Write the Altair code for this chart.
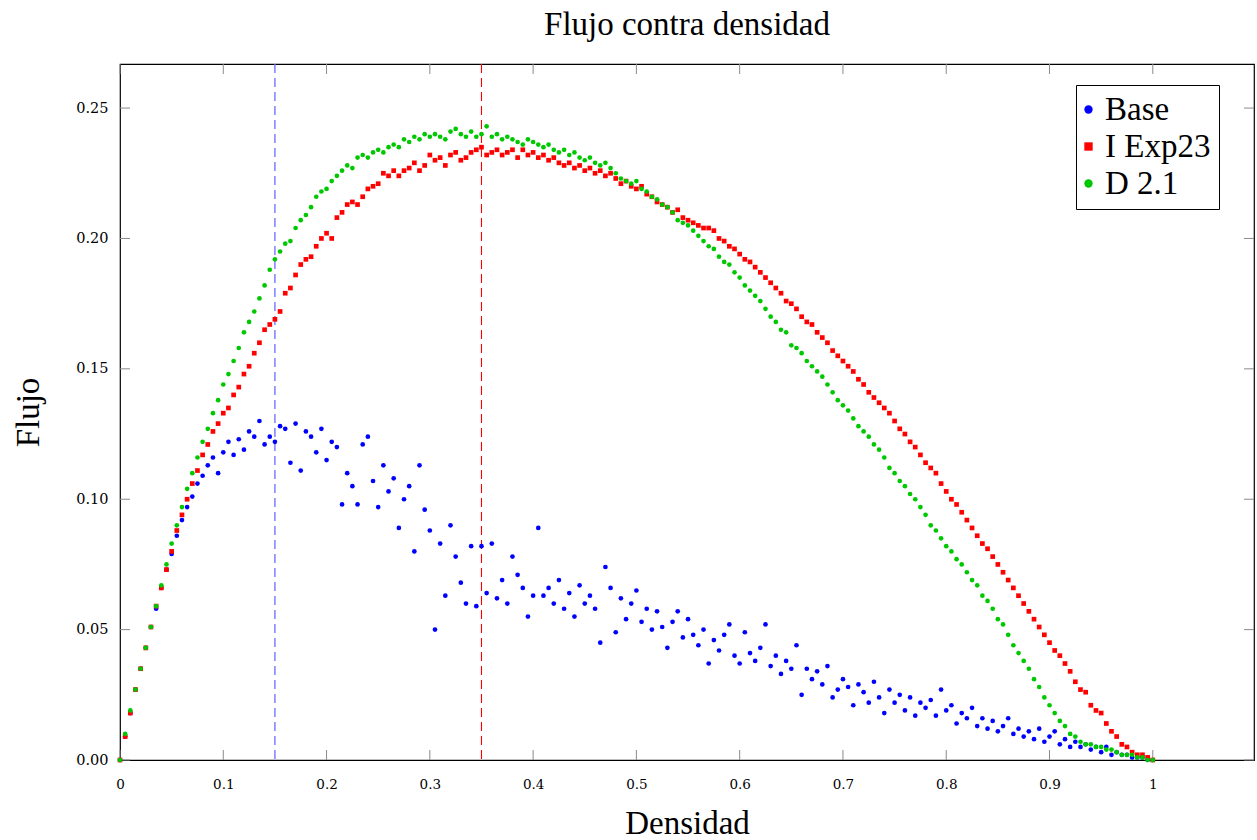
import altair as alt
import pandas as pd

# Density grid (x values of every sample, step 0.005)
DENSIDAD = [round(i * 0.005, 3) for i in range(201)]

BASE = [
    0.000, 0.009, 0.018, 0.027, 0.035, 0.043, 0.051, 0.058, 0.066, 0.073,
    0.079, 0.086, 0.092, 0.097, 0.101, 0.106, 0.109, 0.113, 0.116, 0.110,
    0.118, 0.122, 0.117, 0.123, 0.119, 0.126, 0.124, 0.130, 0.121, 0.124,
    0.122, 0.128, 0.127, 0.114, 0.129, 0.111, 0.126, 0.124, 0.118, 0.127,
    0.115, 0.122, 0.120, 0.098, 0.110, 0.105, 0.098, 0.121, 0.124, 0.107,
    0.097, 0.113, 0.103, 0.108, 0.089, 0.100, 0.105, 0.080, 0.113, 0.096,
    0.088, 0.050, 0.083, 0.063, 0.090, 0.078, 0.068, 0.060, 0.082, 0.059,
    0.082, 0.064, 0.083, 0.062, 0.069, 0.060, 0.078, 0.071, 0.066, 0.055,
    0.063, 0.089, 0.063, 0.066, 0.060, 0.069, 0.058, 0.064, 0.055, 0.067,
    0.060, 0.063, 0.058, 0.045, 0.074, 0.066, 0.049, 0.062, 0.054, 0.060,
    0.065, 0.053, 0.058, 0.050, 0.057, 0.051, 0.043, 0.053, 0.057, 0.047,
    0.054, 0.048, 0.044, 0.050, 0.037, 0.046, 0.042, 0.048, 0.052, 0.040,
    0.037, 0.049, 0.041, 0.038, 0.043, 0.052, 0.036, 0.040, 0.033, 0.038,
    0.035, 0.044, 0.025, 0.035, 0.031, 0.034, 0.029, 0.036, 0.024, 0.027,
    0.031, 0.028, 0.021, 0.029, 0.026, 0.022, 0.030, 0.024, 0.018, 0.027,
    0.022, 0.025, 0.019, 0.024, 0.017, 0.022, 0.020, 0.023, 0.017, 0.027,
    0.019, 0.021, 0.014, 0.018, 0.016, 0.020, 0.013, 0.016, 0.012, 0.015,
    0.011, 0.013, 0.016, 0.010, 0.012, 0.009, 0.011, 0.008, 0.012, 0.007,
    0.009, 0.011, 0.006, 0.008, 0.005, 0.007, 0.005, 0.006, 0.004, 0.005,
    0.003, 0.005, 0.002, 0.003, 0.002, 0.002, 0.001, 0.001, 0.001, 0.000,
    0.000,
]

I_EXP23 = [
    0.000, 0.009, 0.018, 0.027, 0.035, 0.043, 0.051, 0.059, 0.066, 0.073,
    0.080, 0.088, 0.094, 0.100, 0.106, 0.111, 0.117, 0.121, 0.126, 0.129,
    0.133, 0.135, 0.140, 0.143, 0.148, 0.151, 0.156, 0.160, 0.165, 0.167,
    0.169, 0.172, 0.179, 0.181, 0.186, 0.190, 0.192, 0.193, 0.197, 0.200,
    0.202, 0.200, 0.208, 0.210, 0.213, 0.214, 0.213, 0.216, 0.219, 0.220,
    0.221, 0.225, 0.224, 0.226, 0.224, 0.226, 0.227, 0.229, 0.226, 0.228,
    0.232, 0.230, 0.231, 0.228, 0.232, 0.233, 0.230, 0.231, 0.233, 0.234,
    0.235, 0.232, 0.233, 0.234, 0.232, 0.233, 0.234, 0.231, 0.234, 0.232,
    0.233, 0.231, 0.232, 0.230, 0.231, 0.229, 0.228, 0.229, 0.227, 0.228,
    0.226, 0.227, 0.225, 0.226, 0.224, 0.225, 0.223, 0.221, 0.222, 0.220,
    0.219, 0.220, 0.217, 0.216, 0.214, 0.213, 0.212, 0.210, 0.211, 0.208,
    0.207, 0.206, 0.205, 0.204, 0.204, 0.203, 0.200, 0.199, 0.197, 0.196,
    0.194, 0.192, 0.191, 0.189, 0.187, 0.185, 0.183, 0.181, 0.179, 0.176,
    0.175, 0.173, 0.170, 0.168, 0.167, 0.164, 0.162, 0.160, 0.157, 0.155,
    0.153, 0.151, 0.149, 0.146, 0.144, 0.141, 0.139, 0.137, 0.135, 0.133,
    0.130, 0.127, 0.125, 0.122, 0.120, 0.117, 0.114, 0.112, 0.110, 0.106,
    0.103, 0.100, 0.098, 0.095, 0.092, 0.089, 0.086, 0.083, 0.081, 0.078,
    0.075, 0.072, 0.069, 0.066, 0.063, 0.060, 0.057, 0.054, 0.051, 0.048,
    0.045, 0.042, 0.040, 0.037, 0.034, 0.030, 0.027, 0.026, 0.021, 0.019,
    0.018, 0.014, 0.011, 0.009, 0.006, 0.005, 0.003, 0.002, 0.002, 0.001,
    0.000,
]

D_21 = [
    0.000, 0.010, 0.019, 0.027, 0.035, 0.043, 0.051, 0.059, 0.067, 0.075,
    0.083, 0.090, 0.097, 0.104, 0.110, 0.116, 0.122, 0.127, 0.133, 0.138,
    0.144, 0.148, 0.153, 0.158, 0.164, 0.168, 0.172, 0.177, 0.182, 0.188,
    0.192, 0.195, 0.198, 0.199, 0.204, 0.207, 0.209, 0.212, 0.216, 0.218,
    0.219, 0.222, 0.224, 0.226, 0.228, 0.227, 0.231, 0.232, 0.231, 0.233,
    0.234, 0.233, 0.235, 0.236, 0.235, 0.238, 0.237, 0.239, 0.238, 0.240,
    0.239, 0.240, 0.239, 0.238, 0.241, 0.242, 0.240, 0.239, 0.241, 0.239,
    0.240, 0.243, 0.239, 0.240, 0.238, 0.239, 0.238, 0.237, 0.236, 0.238,
    0.237, 0.236, 0.235, 0.236, 0.234, 0.233, 0.234, 0.232, 0.233, 0.231,
    0.230, 0.231, 0.229, 0.228, 0.229, 0.227, 0.225, 0.223, 0.222, 0.221,
    0.222, 0.219, 0.218, 0.216, 0.215, 0.213, 0.212, 0.210, 0.207, 0.206,
    0.205, 0.203, 0.201, 0.199, 0.197, 0.196, 0.193, 0.191, 0.190, 0.187,
    0.185, 0.182, 0.180, 0.178, 0.176, 0.173, 0.170, 0.168, 0.165, 0.164,
    0.159, 0.158, 0.156, 0.153, 0.151, 0.149, 0.147, 0.144, 0.141, 0.138,
    0.136, 0.134, 0.131, 0.128, 0.126, 0.124, 0.121, 0.119, 0.116, 0.112,
    0.110, 0.107, 0.105, 0.102, 0.100, 0.097, 0.094, 0.090, 0.088, 0.085,
    0.082, 0.080, 0.077, 0.075, 0.072, 0.069, 0.067, 0.063, 0.061, 0.058,
    0.054, 0.052, 0.048, 0.044, 0.041, 0.038, 0.035, 0.031, 0.028, 0.024,
    0.021, 0.018, 0.015, 0.013, 0.010, 0.009, 0.007, 0.006, 0.006, 0.005,
    0.005, 0.004, 0.004, 0.003, 0.002, 0.002, 0.002, 0.001, 0.001, 0.000,
    0.000,
]

SERIES = ["Base", "I Exp23", "D 2.1"]
COLORS = ["#0000ff", "#ff0000", "#00c800"]
SHAPES = ["circle", "square", "circle"]

X_TICKS = [0, 0.1, 0.2, 0.3, 0.4, 0.5, 0.6, 0.7, 0.8, 0.9, 1.0]
Y_TICKS = [0.0, 0.05, 0.10, 0.15, 0.20, 0.25]
VLINE_BLUE = [0.15]
VLINE_RED = [0.35]

W, H = 1134, 696
TICK_LEN = 10

rows = []
for name, vals in zip(SERIES, [BASE, I_EXP23, D_21]):
    for d, f in zip(DENSIDAD, vals):
        rows.append({"densidad": d, "flujo": f, "serie": name})
df = pd.DataFrame(rows)

xscale = alt.Scale(domain=[0, 1.098], nice=False, zero=False)
yscale = alt.Scale(domain=[0, 0.2669], nice=False, zero=False)

x_axis = alt.Axis(
    values=X_TICKS, format="~g", ticks=False, domain=False, grid=False,
    labelFont="DejaVu Serif", labelFontSize=13.5, labelColor="black", labelPadding=17,
    labelFlush=False,
    title="Densidad", titleFont="Liberation Serif", titleFontSize=33,
    titleFontWeight="normal", titleColor="black", titleX=567, titleY=73,
    titleBaseline="alphabetic", titleAnchor="middle",
)
y_axis = alt.Axis(
    values=Y_TICKS, format=".2f", ticks=False, domain=False, grid=False,
    labelFont="DejaVu Serif", labelFontSize=14.5, labelColor="black", labelPadding=12,
    labelFlush=False,
    title="Flujo", titleFont="Liberation Serif", titleFontSize=33,
    titleFontWeight="normal", titleColor="black", titleX=-82, titleY=348,
    titleAngle=-90, titleBaseline="alphabetic", titleAlign="center",
)

vline_b = alt.Chart(pd.DataFrame({"densidad": VLINE_BLUE})).mark_rule(
    color="#6b6bff", strokeWidth=1.3, strokeDash=[9, 5]
).encode(x=alt.X("densidad:Q", scale=xscale, axis=x_axis))

vline_r = alt.Chart(pd.DataFrame({"densidad": VLINE_RED})).mark_rule(
    color="#ff0000", strokeWidth=1.1, strokeDash=[9, 5]
).encode(x=alt.X("densidad:Q", scale=xscale, axis=x_axis))

points = alt.Chart(df).mark_point(filled=True, size=22, opacity=1).encode(
    x=alt.X("densidad:Q", scale=xscale, axis=x_axis),
    y=alt.Y("flujo:Q", scale=yscale, axis=y_axis),
    color=alt.Color(
        "serie:N", title=None,
        scale=alt.Scale(domain=SERIES, range=COLORS),
        legend=alt.Legend(
            orient="none", legendX=956, legendY=21,
            strokeColor="black", fillColor="white", padding=8,
            labelFont="Liberation Serif", labelFontSize=33, labelColor="black",
            symbolSize=70, symbolStrokeWidth=0, rowPadding=3, labelOffset=0,
            symbolOffset=-12,
        ),
    ),
    shape=alt.Shape("serie:N", title=None, scale=alt.Scale(domain=SERIES, range=SHAPES)),
    order=alt.Order("idx:Q"),
).transform_calculate(
    idx="datum.serie == 'Base' ? 0 : (datum.serie == 'I Exp23' ? 1 : 2)"
)

xt = pd.DataFrame({"densidad": X_TICKS})
yt = pd.DataFrame({"flujo": Y_TICKS})
tick_style = dict(color="#8a8a8a", strokeWidth=1)

ticks_bottom = alt.Chart(xt).mark_rule(**tick_style).encode(
    x=alt.X("densidad:Q", scale=xscale, axis=x_axis), y=alt.value(H - TICK_LEN), y2=alt.value(H))
ticks_top = alt.Chart(xt).mark_rule(**tick_style).encode(
    x=alt.X("densidad:Q", scale=xscale, axis=x_axis), y=alt.value(0), y2=alt.value(TICK_LEN))
ticks_left = alt.Chart(yt).mark_rule(**tick_style).encode(
    y=alt.Y("flujo:Q", scale=yscale, axis=y_axis), x=alt.value(0), x2=alt.value(TICK_LEN))
ticks_right = alt.Chart(yt).mark_rule(**tick_style).encode(
    y=alt.Y("flujo:Q", scale=yscale, axis=y_axis), x=alt.value(W - TICK_LEN), x2=alt.value(W))

chart = alt.layer(
    ticks_bottom, ticks_top, ticks_left, ticks_right, vline_b, vline_r, points
).properties(
    width=W, height=H,
    autosize=alt.AutoSizeParams(type="none"),
    padding={"left": 120, "top": 64, "right": 3, "bottom": 80},
    title=alt.TitleParams(
        "Flujo contra densidad", font="Liberation Serif", fontSize=33,
        fontWeight="normal", color="black", anchor="middle", offset=32,
        baseline="alphabetic", frame="group", dy=37,
    ),
).configure(background="white").configure_view(stroke="black", strokeWidth=1.2)

chart.save("out.html", embed_options={"renderer": "svg", "actions": False})
